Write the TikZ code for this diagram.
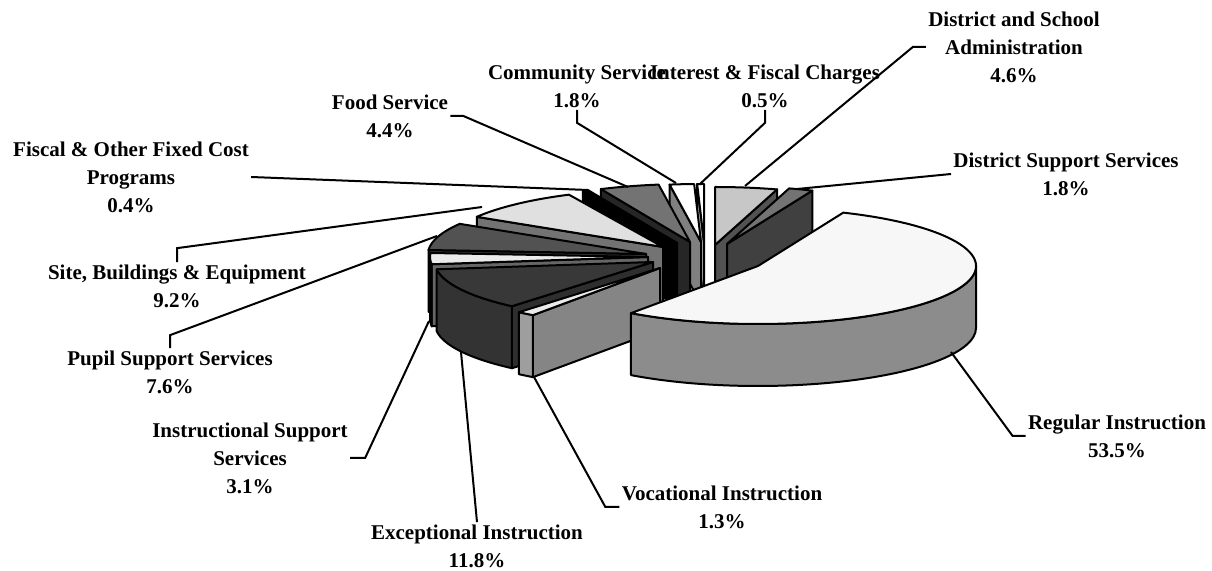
\documentclass[tikz,border=0pt]{standalone}
\usepackage{fontspec}
\setmainfont{Liberation Serif}
\tikzset{
  pieface/.style={draw=black, line width=1pt, line join=round},
  piearc/.style={x radius=218, y radius=58},
  leader/.style={draw=black, line width=1pt},
  lbl/.style={font=\bfseries\fontsize{10.5}{14}\selectfont, align=center, inner sep=1pt}
}
\newcommand{\slicetop}[4]{\filldraw[pieface,fill=#4] (#1) -- ++(#2:218 and 58) arc[piearc,start angle=#2,end angle=#3] -- cycle;}
\newcommand{\slicewall}[3]{\filldraw[pieface,fill=#3] (#1) -- ++(#2:218 and 58) -- ++(0,-62) -- ++({#2+180}:218 and 58) -- cycle;}
\newcommand{\sliceside}[4]{\filldraw[pieface,fill=#4] (#1) ++(#2:218 and 58) arc[piearc,start angle=#2,end angle=#3] -- ++(0,-62) arc[piearc,start angle=#3,end angle=#2] -- cycle;}
\begin{document}
\begin{tikzpicture}[x=0.5pt,y=0.5pt]
      \path[fill=white] (0,0) rectangle (1212,-571);
      \useasboundingbox (0,0) rectangle (1212,-571);
      \coordinate (int) at (704,-242);
      \coordinate (com) at (701,-242);
      \coordinate (dsa) at (715,-245);
      \coordinate (dss) at (727,-244);
      \coordinate (food) at (690,-242);
      \coordinate (fis) at (677,-243);
      \coordinate (site) at (663,-247);
      \coordinate (pup) at (646,-254);
      \coordinate (ins) at (648,-257);
      \coordinate (exc) at (653,-262);
      \coordinate (voc) at (660,-268);
      \coordinate (reg) at (758,-266);
      \slicewall{int}{91.8}{black!30}
      \slicetop{int}{91.8}{90}{white}
      \slicewall{com}{98.28}{black!50}
      \slicetop{com}{98.28}{91.8}{white}
      \slicewall{dsa}{73.44}{black!68}
      \slicetop{dsa}{90}{73.44}{black!22}
      \slicewall{dss}{66.96}{black!75}
      \slicetop{dss}{73.44}{66.96}{black!55}
      \slicewall{food}{114.12}{black!85}
      \slicetop{food}{114.12}{98.28}{black!55}
      \slicewall{fis}{115.56}{black}
      \slicetop{fis}{115.56}{114.12}{black}
      \slicewall{site}{148.68}{black!55}
      \slicetop{site}{148.68}{115.56}{black!12}
      \slicewall{pup}{176.04}{black!80}
      \slicetop{pup}{176.04}{148.68}{black!68}
      \slicewall{ins}{187.2}{black!60}
      \sliceside{ins}{187.2}{180}{black!55}
      \slicetop{ins}{187.2}{176.04}{black!8}
      \slicewall{exc}{229.68}{black!82}
      \sliceside{exc}{229.68}{187.2}{black!80}
      \slicetop{exc}{229.68}{187.2}{black!78}
      \slicewall{voc}{234.36}{black!48}
      \sliceside{voc}{234.36}{229.68}{black!38}
      \slicetop{voc}{234.36}{229.68}{black!8}
      \sliceside{reg}{0}{-125.64}{black!45}
      \slicetop{reg}{66.96}{-125.64}{black!3}
      \node[lbl] (dsa-lbl) at (1014,-47) {District and School\\Administration\\4.6\%};
      \node[lbl] (dss-lbl) at (1066,-174) {District Support Services\\1.8\%};
      \node[lbl] (reg-lbl) at (1117,-436) {Regular Instruction\\53.5\%};
      \node[lbl] (voc-lbl) at (722,-507) {Vocational Instruction\\1.3\%};
      \node[lbl] (exc-lbl) at (477,-546) {Exceptional Instruction\\11.8\%};
      \node[lbl] (ins-lbl) at (250,-458) {Instructional Support\\Services\\3.1\%};
      \node[lbl] (pup-lbl) at (170,-372) {Pupil Support Services\\7.6\%};
      \node[lbl] (site-lbl) at (177,-286) {Site, Buildings \& Equipment\\9.2\%};
      \node[lbl] (fis-lbl) at (131,-177) {Fiscal \& Other Fixed Cost\\Programs\\0.4\%};
      \node[lbl] (food-lbl) at (390,-116) {Food Service\\4.4\%};
      \node[lbl] (com-lbl) at (577,-86) {Community Service\\1.8\%};
      \node[lbl] (int-lbl) at (765,-86) {Interest \& Fiscal Charges\\0.5\%};
      \coordinate (dsa-pt) at (745,-186);
      \coordinate (dss-pt) at (797,-189);
      \coordinate (reg-pt) at (951,-352);
      \coordinate (voc-pt) at (534,-377);
      \coordinate (exc-pt) at (461,-352);
      \coordinate (ins-pt) at (429,-321);
      \coordinate (pup-pt) at (437,-236);
      \coordinate (site-pt) at (482,-207);
      \coordinate (fis-pt) at (588,-190);
      \coordinate (food-pt) at (628,-187);
      \coordinate (com-pt) at (676,-183);
      \coordinate (int-pt) at (700,-184);
      \begin{scope}[leader]
        \draw (dsa-lbl.west) -- ++(-13,0) -- (dsa-pt);
        \draw (dss-lbl.west) -- (dss-pt);
        \draw (reg-lbl.west) -- ++(-13,0) -- (reg-pt);
        \draw (voc-lbl.west) -- ++(-14,0) -- (voc-pt);
        \draw (exc-lbl.north) -- (exc-pt);
        \draw (ins-lbl.east) -- ++(15,0) -- (ins-pt);
        \draw (pup-lbl.north) -- ++(0,13) -- (pup-pt);
        \draw (site-lbl.north) -- ++(0,14) -- (site-pt);
        \draw (fis-lbl.east) -- (fis-pt);
        \draw (food-lbl.east) -- ++(13,0) -- (food-pt);
        \draw (com-lbl.south) -- ++(0,-13) -- (com-pt);
        \draw (int-lbl.south) -- ++(0,-13) -- (int-pt);
      \end{scope}
    \end{tikzpicture}
\end{document}
